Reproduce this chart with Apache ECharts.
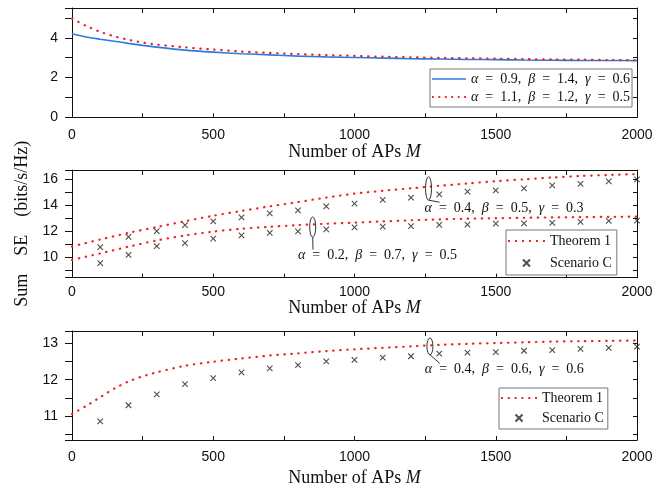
<!DOCTYPE html>
<html><head><meta charset="utf-8">
<script src="https://cdn.jsdelivr.net/npm/echarts@6/dist/echarts.min.js"></script>
<style>html,body{margin:0;padding:0;background:#fff}#c{width:665px;height:490px}</style>
</head><body><div id="c"></div><script>
// ---- data ----
const M_TOP = [0,50,100,150,200,250,300,400,500,600,700,800,900,1000,1100,1200,1300,1400,1500,1600,1700,1800,1900,2000];
const TOP_BLUE = [4.20,4.04,3.93,3.83,3.72,3.62,3.53,3.38,3.28,3.20,3.14,3.08,3.04,3.01,2.98,2.95,2.93,2.91,2.90,2.88,2.87,2.86,2.86,2.85];
const TOP_RED  = [4.97,4.60,4.30,4.07,3.90,3.76,3.66,3.52,3.41,3.31,3.24,3.18,3.13,3.09,3.05,3.02,2.99,2.97,2.95,2.93,2.91,2.90,2.88,2.87];

const M_MID = [0,100,200,300,400,500,600,700,800,900,1000,1100,1200,1300,1400,1500,1600,1700,1800,1900,2000];
const MID_THEORY_UP = [10.83,11.37,11.88,12.33,12.78,13.20,13.57,13.92,14.25,14.60,14.90,15.12,15.31,15.50,15.68,15.86,16.00,16.14,16.26,16.34,16.40];
const MID_THEORY_LO = [9.80,10.30,10.82,11.30,11.68,11.98,12.20,12.35,12.48,12.58,12.67,12.76,12.85,12.92,12.97,13.01,13.04,13.07,13.09,13.11,13.13];

const M_SIM = [100,200,300,400,500,600,700,800,900,1000,1100,1200,1300,1400,1500,1600,1700,1800,1900,2000];
const MID_SIM_UP = [10.78,11.58,12.02,12.48,12.77,13.08,13.38,13.61,13.92,14.14,14.42,14.60,14.85,15.05,15.15,15.30,15.53,15.65,15.85,16.00];
const MID_SIM_LO = [9.55,10.19,10.86,11.09,11.43,11.69,11.88,12.00,12.15,12.30,12.36,12.40,12.50,12.52,12.60,12.62,12.65,12.72,12.80,12.83];

const BOT_THEORY = [11.06,11.28,11.52,11.76,11.95,12.09,12.20,12.38,12.49,12.58,12.66,12.72,12.78,12.83,12.87,12.91,12.95,12.98,13.00,13.02,13.04,13.05,13.06,13.07];
const BOT_SIM = [10.86,11.30,11.60,11.88,12.04,12.20,12.31,12.40,12.50,12.54,12.60,12.64,12.71,12.74,12.75,12.79,12.81,12.84,12.87,12.90];

const X_TICK_LABELS = [0,500,1000,1500,2000];
const TOP_Y_LABELS = [0,2,4];
const MID_Y_LABELS = [10,12,14,16];
const BOT_Y_LABELS = [11,12,13];

const TOP_NAMES = ['α = 0.9, β = 1.4, γ = 0.6', 'α = 1.1, β = 1.2, γ = 0.5'];
const THEORY_NAME = 'Theorem 1';
const SIM_NAME = 'Scenario C';
const X_TITLE = 'Number of APs {i|M}';
const Y_TITLE = 'Sum\u2003SE\u2003(bits/s/Hz)';

// annotations: [ellipse M, ellipse centre value, ellipse half height, text M, text value]
const ANNO_MID = [[1262,15.30,0.90,1248,13.78],[852,12.33,0.78,800,10.13]];
const ANNO_MID_TEXT = ['α = 0.4, β = 0.5, γ = 0.3','α = 0.2, β = 0.7, γ = 0.5'];
const ANNO_BOT = [[1267,12.91,0.23,1249,12.28]];
const ANNO_BOT_TEXT = ['α = 0.4, β = 0.6, γ = 0.6'];

// ---- helpers ----
const zip = (xs, ys) => xs.map((x, i) => [x, ys[i]]);
const SERIF = 'Liberation Serif';
const SANS = 'Liberation Sans';
const INK = '#111';
const RED = '#e8262a';
const BLUE = '#2b7be0';
const richText = s => s.replace(/ = /g, '\u2002=\u2002').replace(/, /g, ',  ').replace(/([αβγ])/g, '{i|$1}');
const RICH = { i: { fontStyle: 'italic', fontFamily: SERIF, fontSize: 14, color: INK } };
const CROSS = 'path://M-5,-5M15,15M0,0L10,10M10,0L0,10';
const ICON_SOLID = 'path://M0,0h34v1.6h-34z';
const ICON_DOTS = 'path://M0,0h2v2h-2zM7,0h2v2h-2zM14,0h2v2h-2zM21,0h2v2h-2zM28,0h2v2h-2zM35,0h2v2h-2z';

const grids = [
  { left: 72, right: 28, top: 8, height: 109.3 },
  { left: 72, right: 28, top: 170, height: 107.7 },
  { left: 72, right: 28, top: 331, height: 109 }
];
const yCfg = [
  { min: 0, max: 5.5, step: 1, split: 5, labels: TOP_Y_LABELS },
  { min: 8.43, max: 16.72, step: 1, split: 8, labels: MID_Y_LABELS },
  { min: 10.35, max: 13.33, step: 0.5, split: 6, labels: BOT_Y_LABELS }
];
const xLab = [{ margin: 11, gap: 25 }, { margin: 7, gap: 17 }, { margin: 10, gap: 29 }];

const xAxis = [], yAxis = [];
grids.forEach((g, gi) => {
  const axLine = { show: true, onZero: false, lineStyle: { color: INK, width: 1 } };
  xAxis.push({
    gridIndex: gi, type: 'value', min: 0, max: 2000, interval: 250, position: 'bottom',
    axisLine: axLine, splitLine: { show: false },
    axisTick: { inside: true, length: 4, lineStyle: { color: INK } },
    axisLabel: { margin: xLab[gi].margin, fontFamily: SANS, fontSize: 14, color: INK,
      formatter: v => X_TICK_LABELS.includes(v) ? String(v) : '' },
    name: X_TITLE, nameLocation: 'middle', nameGap: xLab[gi].gap,
    nameTextStyle: { fontFamily: SERIF, fontSize: 18, color: INK,
      rich: { i: { fontStyle: 'italic', fontFamily: SERIF, fontSize: 18, color: INK } } }
  });
  xAxis.push({
    gridIndex: gi, type: 'value', min: 0, max: 2000, interval: 250, position: 'top',
    axisLine: axLine, splitLine: { show: false },
    axisTick: { inside: true, length: 5, lineStyle: { color: INK } },
    axisLabel: { show: false }
  });
  const y = yCfg[gi];
  const base = { gridIndex: gi, type: 'value', min: y.min, max: y.max,
    splitNumber: y.split, minInterval: y.step, maxInterval: y.step };
  const left = Object.assign({}, base, {
    position: 'left', axisLine: axLine, splitLine: { show: false },
    axisTick: { inside: false, length: 7, lineStyle: { color: INK } },
    axisLabel: { margin: 14, fontFamily: SANS, fontSize: 14, color: INK,
      showMinLabel: true, showMaxLabel: true,
      formatter: v => y.labels.some(l => Math.abs(l - v) < 1e-6) ? String(Math.round(v)) : '' }
  });
  if (gi === 1) {
    left.name = Y_TITLE; left.nameLocation = 'middle'; left.nameGap = 41;
    left.nameTextStyle = { fontFamily: SERIF, fontSize: 18, color: INK };
  }
  yAxis.push(left);
  yAxis.push(Object.assign({}, base, {
    position: 'right', axisLine: axLine, splitLine: { show: false },
    axisTick: { inside: true, length: 4, lineStyle: { color: INK } },
    axisLabel: { show: false }
  }));
});

const dotted = { color: RED, width: 2.2, type: [0.5, 6.5], cap: 'round' };
const lineS = (name, gi, data, style, z) => ({
  type: 'line', name, xAxisIndex: gi * 2, yAxisIndex: gi * 2, data, smooth: 0.25,
  symbol: 'none', lineStyle: style, itemStyle: { color: style.color },
  z: z || 2, animation: false
});
const simS = (gi, data) => ({
  type: 'scatter', name: SIM_NAME, xAxisIndex: gi * 2, yAxisIndex: gi * 2, data,
  symbol: CROSS, symbolSize: 11, clip: false,
  itemStyle: { color: 'rgba(0,0,0,0)', borderColor: '#222', borderWidth: 1.1 }, animation: false
});
const annoS = (gi, data, texts) => ({
  type: 'custom', xAxisIndex: gi * 2, yAxisIndex: gi * 2, data, clip: false, silent: true,
  animation: false, z: 5,
  renderItem: (params, api) => {
    const c = api.coord([api.value(0), api.value(1)]);
    const tp = api.coord([api.value(0), api.value(1) + api.value(2)]);
    const ry = Math.abs(c[1] - tp[1]), rx = 3;
    const t = api.coord([api.value(3), api.value(4)]);
    return { type: 'group', children: [
      { type: 'path', shape: { pathData: 'M0,1A1,1 0 1,0 2,1A1,1 0 1,0 0,1Z',
          x: c[0] - rx, y: c[1] - ry, width: 2 * rx, height: 2 * ry, layout: 'cover' },
        style: { fill: 'none', stroke: '#333', lineWidth: 1 } },
      { type: 'line', shape: { x1: c[0], y1: c[1] + ry, x2: t[0] + 15, y2: t[1] - 6 },
        style: { stroke: '#333', lineWidth: 1 } },
      { type: 'text', x: t[0], y: t[1],
        style: { text: richText(texts[params.dataIndex]), fill: INK, fontFamily: SERIF, fontSize: 14,
          align: 'left', verticalAlign: 'middle', rich: RICH } }
    ] };
  }
});

const series = [
  lineS(TOP_NAMES[0], 0, zip(M_TOP, TOP_BLUE), { color: BLUE, width: 1.6 }),
  lineS(TOP_NAMES[1], 0, zip(M_TOP, TOP_RED), dotted, 3),
  lineS(THEORY_NAME, 1, zip(M_MID, MID_THEORY_UP), dotted),
  lineS(THEORY_NAME, 1, zip(M_MID, MID_THEORY_LO), dotted),
  simS(1, zip(M_SIM, MID_SIM_UP)),
  simS(1, zip(M_SIM, MID_SIM_LO)),
  lineS(THEORY_NAME, 2, zip(M_TOP, BOT_THEORY), dotted),
  simS(2, zip(M_SIM, BOT_SIM)),
  annoS(1, ANNO_MID, ANNO_MID_TEXT),
  annoS(2, ANNO_BOT, ANNO_BOT_TEXT)
];

const legendBase = {
  orient: 'vertical', itemHeight: 14, backgroundColor: '#fff', borderColor: '#777', borderWidth: 1,
  borderRadius: 0, selectedMode: false,
  textStyle: { fontFamily: SERIF, fontSize: 14, color: INK, rich: RICH },
  formatter: n => richText(n)
};
const theoryItems = [{ name: THEORY_NAME, icon: ICON_DOTS }, { name: SIM_NAME }];
const legend = [
  Object.assign({}, legendBase, { data: [{ name: TOP_NAMES[0], icon: ICON_SOLID }, { name: TOP_NAMES[1], icon: ICON_DOTS }],
    left: 430, top: 69, itemWidth: 34, itemGap: 4, padding: [3, 2, 3, 2] }),
  Object.assign({}, legendBase, { data: theoryItems, left: 506, top: 230, itemWidth: 37, itemGap: 7, padding: [4, 5, 4, 2] }),
  Object.assign({}, legendBase, { data: theoryItems, left: 499, top: 388, itemWidth: 36, itemGap: 5, padding: [3, 4, 3, 2] })
];

const chart = echarts.init(document.getElementById('c'), null, { renderer: 'canvas' });
chart.setOption({ animation: false, backgroundColor: '#fff', grid: grids, xAxis, yAxis, series, legend });
</script></body></html>
